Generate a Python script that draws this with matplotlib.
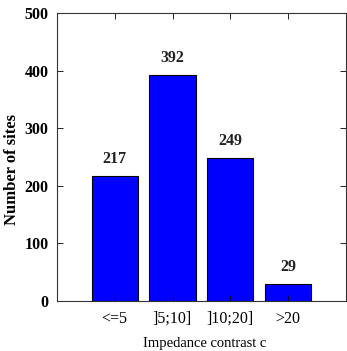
import matplotlib
matplotlib.use("Agg")
import matplotlib.pyplot as plt

categories = ["<=5", "]5;10]", "]10;20]", ">20"]
counts = [217, 392, 249, 29]
yticks = [0, 100, 200, 300, 400, 500]

plt.rcParams['font.family'] = ['Liberation Serif', 'DejaVu Serif']

fig = plt.figure(figsize=(3.47, 3.51), dpi=100)
ax = fig.add_axes([0.164, 0.1425, 0.833, 0.8205])
pos = list(range(1, len(categories) + 1))
bars = ax.bar(pos, counts, width=0.8, color='#0000FF', edgecolor='black', linewidth=0.8)
for p, c in zip(pos, counts):
    ax.annotate(str(c), (p, c), xytext=(0, 17), textcoords='offset pixels',
                ha='center', va='center', fontsize=11.5, fontweight='bold', color='#222222')
ax.set_xlim(0, 5)
ax.set_ylim(0, 500)
ax.set_xticks(pos)
ax.set_xticklabels(categories, fontsize=11.5)
ax.set_yticks(yticks)
ax.set_yticklabels([str(v) for v in yticks], fontsize=11.5, fontweight='bold')
ax.tick_params(direction='in', top=True, right=True, length=4, width=0.6, pad=6)
ax.tick_params(axis='x', pad=7)
for s in ax.spines.values():
    s.set_linewidth(0.8)
    s.set_color('#333333')
ax.set_xlabel("Impedance contrast c", fontsize=10.5, va='center')
ax.xaxis.set_label_coords(0.51, -0.146)
ax.set_ylabel("Number of sites", fontsize=12, fontweight='bold', va='center')
ax.yaxis.set_label_coords(-0.155, 0.458)
fig.savefig("out.png", dpi=100)
